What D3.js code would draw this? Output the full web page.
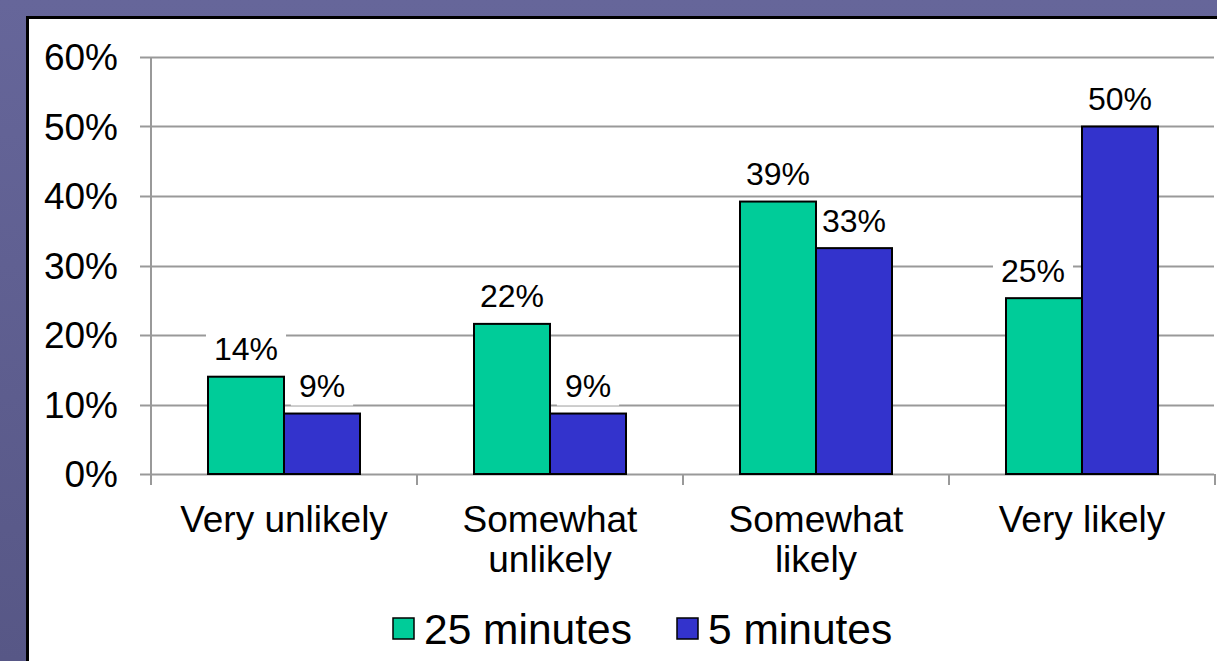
<!DOCTYPE html>
<html><head><meta charset="utf-8">
<script src="https://cdn.jsdelivr.net/npm/d3@7"></script>
<style>html,body{margin:0;padding:0;overflow:hidden;}svg{display:block;}</style>
</head><body>
<svg id="c" width="1217" height="661"></svg>
<script>
const categories = [["Very unlikely"], ["Somewhat", "unlikely"], ["Somewhat", "likely"], ["Very likely"]];
const seriesNames = ["25 minutes", "5 minutes"];
const series25 = [14.0, 21.6, 39.2, 25.3];
const series5 = [8.7, 8.7, 32.5, 50.0];
const yTicks = [0, 10, 20, 30, 40, 50, 60];
const colors = ["#00cc99", "#3333cc"];

(function () {
const FONT = "'Liberation Sans', Arial, sans-serif";
const svg = d3.select("#c");
const defs = svg.append("defs");
const g0 = defs.append("linearGradient").attr("id","bg").attr("x1",0).attr("y1",0).attr("x2",0).attr("y2",1);
g0.append("stop").attr("offset","0").attr("stop-color","#66669a");
g0.append("stop").attr("offset","1").attr("stop-color","#575786");
svg.append("rect").attr("width",1217).attr("height",661).attr("fill","url(#bg)");
svg.append("rect").attr("x",27.5).attr("y",17.5).attr("width",1200).attr("height",660)
  .attr("fill","#fff").attr("stroke","#000").attr("stroke-width",3);

const pL = 151, pR = 1215, pT = 57, pB = 474;
const x = d3.scaleBand().domain(d3.range(categories.length)).range([pL, pR]);
const x1 = d3.scaleBand().domain([0,1]).range([0, 152]);
const y = d3.scaleLinear().domain([0, 60]).range([pB, pT]);

svg.append("g").selectAll("line").data(yTicks).join("line")
  .attr("x1", pL - 11).attr("x2", 1214)
  .attr("y1", d => Math.round(y(d)) + 0.5).attr("y2", d => Math.round(y(d)) + 0.5)
  .attr("stroke", "#999").attr("stroke-width", 2);
svg.append("line").attr("x1", pL).attr("x2", pL).attr("y1", pT).attr("y2", pB + 11)
  .attr("stroke", "#999").attr("stroke-width", 2);
const xt = d3.range(categories.length + 1).map(i => pL + i * x.bandwidth());
svg.append("g").selectAll("line").data(xt.slice(1)).join("line")
  .attr("x1", d => d).attr("x2", d => d).attr("y1", pB).attr("y2", pB + 11)
  .attr("stroke", "#999").attr("stroke-width", 2);

svg.append("g").selectAll("text").data(yTicks).join("text")
  .attr("x", 118).attr("y", d => y(d)).attr("dy", "0.36em").attr("text-anchor", "end")
  .attr("font-family", FONT).attr("font-size", 37)
  .text(d => d + "%");

const data = [];
categories.forEach((c, i) => {
  data.push({ci: i, s: 0, v: series25[i]});
  data.push({ci: i, s: 1, v: series5[i]});
});
const off = (x.bandwidth() - 152) / 2;
const nudge = d => (d.ci === 3 && d.s === 0) ? -11 : 0;

const lbg = svg.append("g");
const barsG = svg.append("g");
const lg = svg.append("g").attr("font-family", FONT).attr("font-size", 32);

barsG.selectAll("rect").data(data).join("rect")
  .attr("x", d => x(d.ci) + off + x1(d.s))
  .attr("y", d => y(d.v))
  .attr("width", x1.bandwidth())
  .attr("height", d => pB - y(d.v))
  .attr("fill", d => colors[d.s]).attr("stroke", "#000").attr("stroke-width", 2);

data.forEach(d => {
  const cx = x(d.ci) + off + x1(d.s) + x1.bandwidth() / 2 + nudge(d);
  const cy = y(d.v) - 28;
  const t = Math.round(d.v) + "%";
  const tx = lg.append("text").attr("x", cx).attr("y", cy).attr("dy", "0.36em").attr("text-anchor", "middle").text(t);
  const w = tx.node().getComputedTextLength() + 16;
  lbg.append("rect").attr("fill", "#fff").attr("x", cx - w/2).attr("y", cy - 20).attr("width", w).attr("height", 40);
});

const cg = svg.append("g").attr("font-family", FONT).attr("font-size", 37);
categories.forEach((lines, i) => {
  const t = cg.append("text").attr("x", x(i) + x.bandwidth()/2).attr("y", 532).attr("text-anchor", "middle");
  lines.forEach((l, j) => t.append("tspan").attr("x", x(i) + x.bandwidth()/2).attr("dy", j === 0 ? 0 : 40).text(l));
});

const legX = [393, 677];
const leg = svg.append("g").attr("font-family", FONT).attr("font-size", 42.5);
seriesNames.forEach((n, i) => {
  leg.append("rect").attr("x", legX[i]).attr("y", 618).attr("width", 21).attr("height", 21)
    .attr("fill", colors[i]).attr("stroke", "#000").attr("stroke-width", 1.5);
  leg.append("text").attr("x", legX[i] + 31).attr("y", 644).text(n);
});
})();
</script>
</body></html>
